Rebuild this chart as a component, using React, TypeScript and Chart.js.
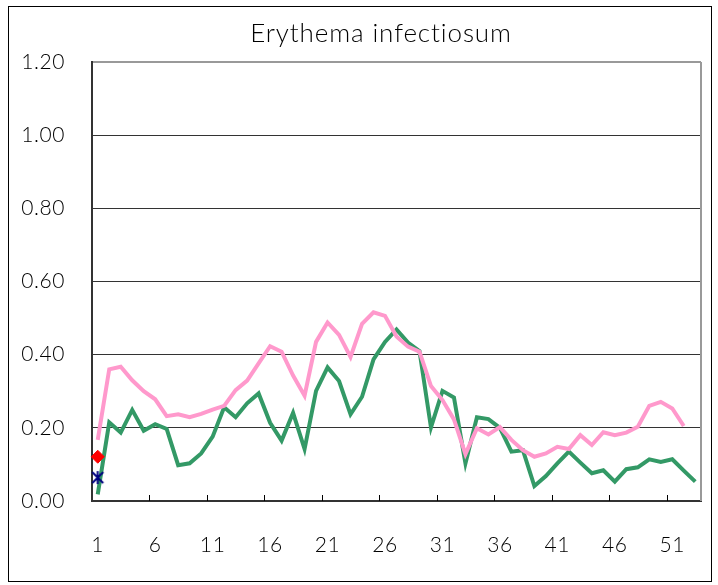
import { useEffect, useRef } from 'react';
import { Chart, registerables } from 'chart.js';

Chart.register(...registerables);

const weeks = [
  '1', '2', '3', '4', '5', '6', '7', '8', '9', '10',
  '11', '12', '13', '14', '15', '16', '17', '18', '19', '20',
  '21', '22', '23', '24', '25', '26', '27', '28', '29', '30',
  '31', '32', '33', '34', '35', '36', '37', '38', '39', '40',
  '41', '42', '43', '44', '45', '46', '47', '48', '49', '50',
  '51', '52', '53',
];

const lastYear = [
  0.167, 0.36, 0.367, 0.33, 0.30, 0.278, 0.232, 0.237, 0.229, 0.238,
  0.25, 0.26, 0.303, 0.329, 0.376, 0.423, 0.408, 0.343, 0.288, 0.435,
  0.488, 0.454, 0.394, 0.484, 0.516, 0.506, 0.45, 0.422, 0.408, 0.314,
  0.276, 0.223, 0.128, 0.199, 0.182, 0.202, 0.167, 0.139, 0.121, 0.13,
  0.148, 0.142, 0.18, 0.153, 0.188, 0.18, 0.187, 0.203, 0.26, 0.271,
  0.253, 0.205, null,
];

const average = [
  0.018, 0.215, 0.187, 0.249, 0.192, 0.21, 0.197, 0.098, 0.103, 0.13,
  0.176, 0.256, 0.229, 0.267, 0.294, 0.214, 0.165, 0.241, 0.142, 0.301,
  0.365, 0.328, 0.237, 0.285, 0.387, 0.435, 0.469, 0.433, 0.41, 0.201,
  0.301, 0.283, 0.103, 0.229, 0.224, 0.2, 0.135, 0.139, 0.041, 0.068,
  0.103, 0.135, 0.105, 0.076, 0.084, 0.053, 0.087, 0.092, 0.114, 0.107,
  0.114, 0.083, 0.053,
];

const currentYear = [0.121];
const currentYearAlt = [0.064];

const yTicks = [0, 0.2, 0.4, 0.6, 0.8, 1.0, 1.2];

const TITLE = 'Erythema infectiosum';
const FONT = "Lato, 'Liberation Sans', sans-serif";

function makeStar(): HTMLCanvasElement {
  const c = document.createElement('canvas');
  c.width = 15;
  c.height = 15;
  const g = c.getContext('2d')!;
  g.strokeStyle = '#000080';
  g.lineWidth = 2;
  g.beginPath();
  g.moveTo(2, 2);
  g.lineTo(13, 13);
  g.moveTo(13, 2);
  g.lineTo(2, 13);
  g.moveTo(7.5, 1);
  g.lineTo(7.5, 14);
  g.stroke();
  return c;
}

const decorPlugin = {
  id: 'decor',
  beforeDraw(chart: any) {
    (chart.ctx as any).letterSpacing = '0.6px';
  },
  afterDraw(chart: any) {
    const { ctx, chartArea } = chart;
    const x = chart.scales.x;
    ctx.save();
    ctx.strokeStyle = '#000';
    ctx.lineWidth = 1;
    for (let i = 5; i < weeks.length; i += 5) {
      const px = Math.round((x.getPixelForValue(i - 1) + x.getPixelForValue(i)) / 2) + 0.5;
      ctx.beginPath();
      ctx.moveTo(px, chartArea.bottom);
      ctx.lineTo(px, chartArea.bottom - 6);
      ctx.stroke();
    }
    ctx.strokeStyle = '#999';
    ctx.lineWidth = 2;
    ctx.beginPath();
    ctx.moveTo(chartArea.right, chartArea.top);
    ctx.lineTo(chartArea.right, chartArea.bottom);
    ctx.stroke();
    // title
    (ctx as any).letterSpacing = '0.9px';
    ctx.fillStyle = '#000';
    ctx.font = `300 26px ${FONT}`;
    ctx.textAlign = 'center';
    ctx.textBaseline = 'middle';
    ctx.fillText(TITLE, 381, 34);
    ctx.restore();
  },
};

export default function App() {
  const ref = useRef<HTMLCanvasElement>(null);

  useEffect(() => {
    const star = makeStar();
    const chart = new Chart(ref.current!, {
      type: 'line',
      data: {
        labels: weeks,
        datasets: [
          {
            label: 'current',
            data: currentYear,
            showLine: false,
            pointStyle: 'rectRot',
            pointRadius: 6.5,
            backgroundColor: '#FF0000',
            borderColor: '#FF0000',
            borderWidth: 1,
          },
          {
            label: 'current2',
            data: currentYearAlt,
            showLine: false,
            pointStyle: star as any,
            pointRadius: 7,
            backgroundColor: '#000080',
            borderColor: '#000080',
          },
          {
            label: 'last year',
            data: lastYear,
            borderColor: '#FF99CC',
            backgroundColor: '#FF99CC',
            borderWidth: 4,
            pointRadius: 0,
            tension: 0,
          },
          {
            label: 'average',
            data: average,
            borderColor: '#339966',
            backgroundColor: '#339966',
            borderWidth: 4,
            pointRadius: 0,
            tension: 0,
          },
        ],
      },
      options: {
        animation: false,
        responsive: false,
        devicePixelRatio: 1,
        layout: { padding: { left: 0, right: 17, top: 62, bottom: 0 } },
        plugins: {
          legend: { display: false },
          tooltip: { enabled: false },
          title: { display: false },
        },
        scales: {
          x: {
            offset: true,
            grid: { display: false, drawTicks: false },
            border: { display: true, color: '#333', width: 2 },
            ticks: {
              autoSkip: false,
              maxRotation: 0,
              padding: 32,
              color: '#000',
              font: { family: FONT, size: 21, weight: 300 as any },
              callback: (_v: any, i: number) => (i % 5 === 0 ? weeks[i] : ''),
            },
            afterFit: (s: any) => {
              s.height = 84;
              s.paddingLeft = 0;
              s.paddingRight = 0;
            },
          },
          y: {
            min: 0,
            max: 1.2,
            afterBuildTicks: (s: any) => {
              s.ticks = yTicks.map((v) => ({ value: v }));
            },
            grid: {
              drawTicks: false,
              color: (c: any) =>
                c.tick && c.tick.value === 0 ? 'rgba(0,0,0,0)' : c.tick && c.tick.value === 1.2 ? '#999' : '#333',
              lineWidth: (c: any) => (c.tick && c.tick.value === 1.2 ? 2 : 1),
            },
            border: { display: true, color: '#333', width: 2 },
            ticks: {
              padding: 27,
              color: '#000',
              font: { family: FONT, size: 21, weight: 300 as any },
              callback: (v: any) => Number(v).toFixed(2),
            },
            afterFit: (s: any) => {
              s.width = 92;
              s.paddingTop = 0;
              s.paddingBottom = 0;
            },
          },
        },
      },
      plugins: [decorPlugin],
    });
    return () => chart.destroy();
  }, []);

  return (
    <div style={{ position: 'fixed', left: 0, top: 0, width: 718, height: 585, background: '#fff' }}>
      <canvas ref={ref} width={718} height={585} style={{ position: 'absolute', left: 0, top: 0 }} />
      <div
        style={{
          position: 'absolute',
          left: 8,
          top: 6,
          width: 704,
          height: 576,
          border: '1px solid #000',
          boxSizing: 'border-box',
          pointerEvents: 'none',
        }}
      />
    </div>
  );
}
